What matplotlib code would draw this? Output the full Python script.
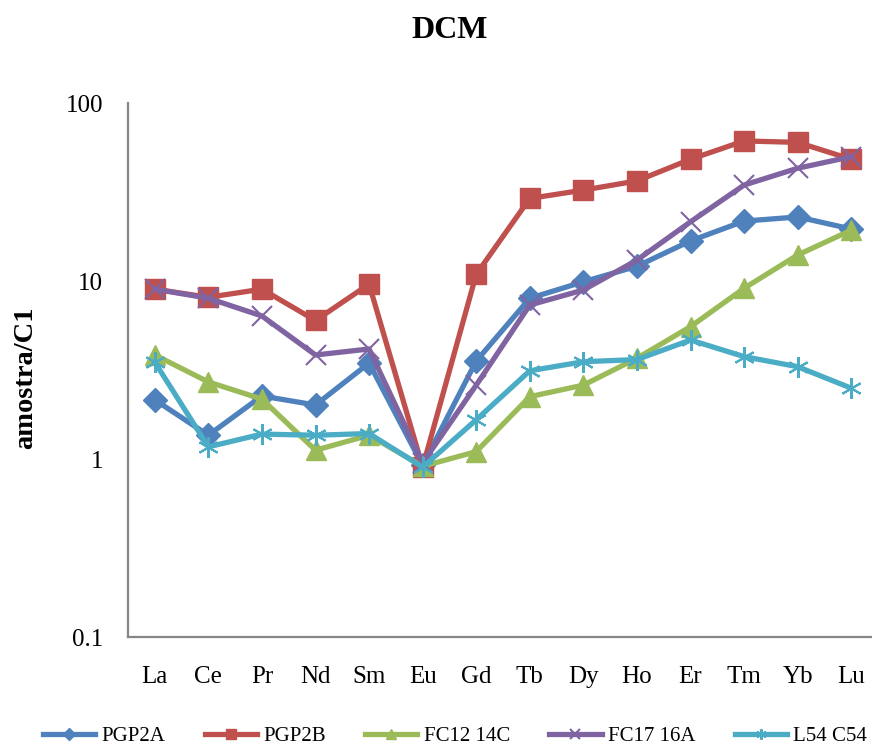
import matplotlib
matplotlib.use("Agg")
import matplotlib.pyplot as plt
from matplotlib.ticker import FixedLocator, NullLocator

plt.rcParams['font.family'] = ['Liberation Serif', 'DejaVu Serif']

elements = ["La", "Ce", "Pr", "Nd", "Sm", "Eu", "Gd", "Tb", "Dy", "Ho", "Er", "Tm", "Yb", "Lu"]

pgp2a = [2.15, 1.36, 2.26, 2.01, 3.46, 0.92, 3.55, 8.0, 9.9, 12.1, 16.8, 21.7, 22.9, 19.6]
pgp2b = [9.0, 8.1, 9.0, 6.0, 9.6, 0.90, 10.9, 29.1, 32.4, 36.5, 48.3, 61.2, 60.1, 48.3]
fc12_14c = [3.84, 2.71, 2.17, 1.12, 1.36, 0.91, 1.10, 2.24, 2.60, 3.68, 5.54, 9.1, 14.0, 19.3]
fc17_16a = [9.0, 8.0, 6.36, 3.84, 4.15, 0.95, 2.6, 7.33, 8.9, 13.1, 21.5, 34.6, 43.0, 49.9]
l54_c54 = [3.5, 1.17, 1.38, 1.36, 1.39, 0.90, 1.66, 3.13, 3.52, 3.62, 4.66, 3.76, 3.3, 2.5]

series_names = ["PGP2A", "PGP2B", "FC12 14C", "FC17 16A", "L54 C54"]
series_values = [pgp2a, pgp2b, fc12_14c, fc17_16a, l54_c54]
colors = ["#4F81BD", "#C0504D", "#9BBB59", "#8064A2", "#4BACC6"]
markers = ["D", "s", "^", "x", (6, 2, 0)]
marker_sizes = [12, 14.5, 14, 15, 15]

fig = plt.figure(figsize=(8.72, 7.45), dpi=100)
ax = fig.add_axes([128 / 872, 1 - 637 / 745, 750 / 872, (637 - 103) / 745])

x = list(range(len(elements)))
for name, vals, c, m, ms in zip(series_names, series_values, colors, markers, marker_sizes):
    kw = dict(markerfacecolor=c, markeredgecolor=c)
    if m == "x" or isinstance(m, tuple):
        kw["markeredgewidth"] = 1.5
    ax.plot(x, vals, color=c, linewidth=3.8, marker=m, markersize=ms,
            label=name, solid_joinstyle="round", **kw)

ax.set_yscale("log")
ax.set_ylim(0.1, 100)
ax.set_xlim(-0.5, len(elements) - 0.5)
ax.yaxis.set_major_locator(FixedLocator([0.1, 1, 10, 100]))
ax.yaxis.set_minor_locator(NullLocator())
ax.set_yticklabels(["0.1", "1", "10", "100"])
ax.set_xticks(x)
ax.set_xticklabels(elements)
ax.tick_params(axis="both", length=0, labelsize=18)
ax.tick_params(axis="y", pad=18)
ax.tick_params(axis="x", pad=21)

for side in ("top", "right"):
    ax.spines[side].set_visible(False)
for side in ("left", "bottom"):
    ax.spines[side].set_color("#868686")
    ax.spines[side].set_linewidth(1.6)

fig.text(26 / 872, 1 - 378 / 745, "amostra/C1", rotation=90, ha="center", va="center",
         fontsize=20.5, fontweight="bold")
fig.text(450 / 872, 1 - 30 / 745, "DCM", ha="center", va="center", fontsize=23, fontweight="bold")

handles, labels = ax.get_legend_handles_labels()
fig.legend(handles, labels, loc="center", bbox_to_anchor=(455 / 872, 1 - 736 / 745), ncol=5,
           frameon=False, fontsize=15, handlelength=2.5, handletextpad=0.3,
           columnspacing=1.9, markerscale=0.5, borderaxespad=0)

fig.savefig("out.png", dpi=100)
